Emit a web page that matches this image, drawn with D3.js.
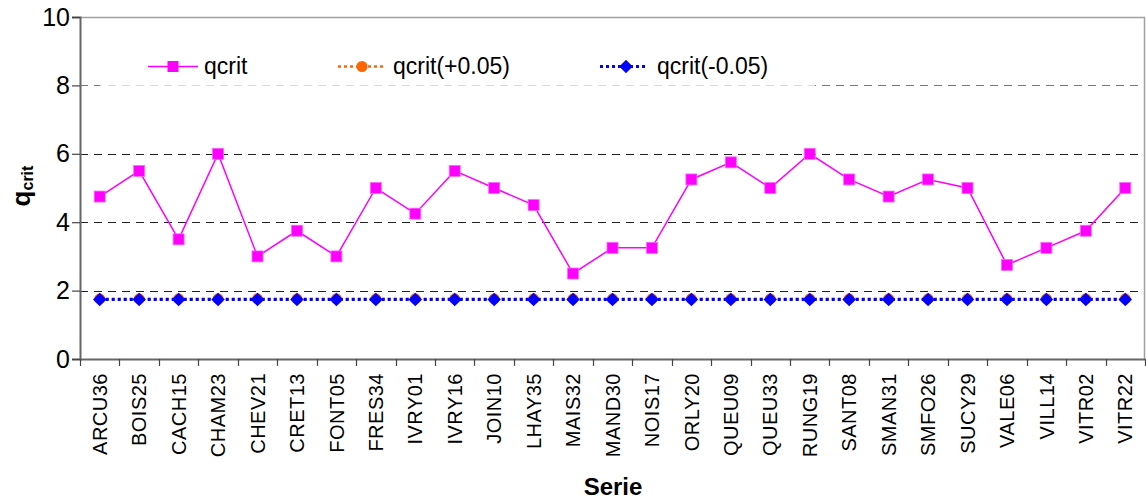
<!DOCTYPE html>
<html>
<head>
<meta charset="utf-8">
<script src="https://cdn.jsdelivr.net/npm/d3@7"></script>
<style>
  html, body { margin: 0; padding: 0; background: #fff; }
  svg { display: block; font-family: Arial, "Liberation Sans", sans-serif; }
</style>
</head>
<body>
<svg id="chart" width="1146" height="500"></svg>
<script>
const categories = ["ARCU36","BOIS25","CACH15","CHAM23","CHEV21","CRET13","FONT05","FRES34","IVRY01","IVRY16","JOIN10","LHAY35","MAIS32","MAND30","NOIS17","ORLY20","QUEU09","QUEU33","RUNG19","SANT08","SMAN31","SMFO26","SUCY29","VALE06","VILL14","VITR02","VITR22"];
const qcrit = [4.75,5.5,3.5,6.0,3.0,3.75,3.0,5.0,4.25,5.5,5.0,4.5,2.5,3.25,3.25,5.25,5.75,5.0,6.0,5.25,4.75,5.25,5.0,2.75,3.25,3.75,5.0];
const qcritPlus = [1.76,1.76,1.76,1.76,1.76,1.76,1.76,1.76,1.76,1.76,1.76,1.76,1.76,1.76,1.76,1.76,1.76,1.76,1.76,1.76,1.76,1.76,1.76,1.76,1.76,1.76,1.76];
const qcritMinus = [1.74,1.74,1.74,1.74,1.74,1.74,1.74,1.74,1.74,1.74,1.74,1.74,1.74,1.74,1.74,1.74,1.74,1.74,1.74,1.74,1.74,1.74,1.74,1.74,1.74,1.74,1.74];
const yTicks = [0,2,4,6,8,10];
const seriesNames = ["qcrit","qcrit(+0.05)","qcrit(-0.05)"];

const svg = d3.select("#chart");
const L = 80, R = 1145, T = 17, B = 359;

const x = d3.scaleBand().domain(categories).range([L, R]).padding(0);
const y = d3.scaleLinear().domain([0, 10]).range([B, T]);
const cx = c => x(c) + x.bandwidth() / 2;

// gridlines
const grid = svg.append("g");
grid.selectAll("line").data(yTicks.filter(t => t > 0 && t < 10)).join("line")
  .attr("x1", L).attr("x2", R)
  .attr("y1", d => Math.round(y(d)) + 0.5).attr("y2", d => Math.round(y(d)) + 0.5)
  .attr("stroke", d => d === 8 ? "#777" : "#222")
  .attr("stroke-width", 1.2)
  .attr("stroke-dasharray", "8,6");

// plot border top/right
svg.append("path")
  .attr("d", `M${L},${T + 0.5}H${R - 0.5}V${B}`)
  .attr("fill", "none").attr("stroke", "#a0a0a0").attr("stroke-width", 1.5);

// legend background (semi-transparent white)
svg.append("rect").attr("x", 100).attr("y", 40).attr("width", 715).attr("height", 56)
  .attr("fill", "#fff").attr("opacity", 0.72);

// Y axis
const yAxis = d3.axisLeft(y).tickValues(yTicks).tickSize(8).tickPadding(2).tickFormat(d3.format("d"));
const gy = svg.append("g").attr("transform", `translate(${L},0)`).call(yAxis);
gy.select(".domain").attr("stroke", "#666").attr("stroke-width", 2);
gy.selectAll(".tick line").attr("stroke", "#444").attr("stroke-width", 1.2);
gy.selectAll(".tick text").attr("font-size", 25).attr("fill", "#000").attr("font-family", "Arial, 'Liberation Sans', sans-serif");

// X axis
const xAxis = d3.axisBottom(x).tickSize(0).tickFormat(d => d);
const gx = svg.append("g").attr("transform", `translate(0,${B})`).call(xAxis);
gx.select(".domain").attr("stroke", "#666").attr("stroke-width", 2);
gx.selectAll(".tick text")
  .attr("font-size", 20).attr("fill", "#000").attr("font-family", "Arial, 'Liberation Sans', sans-serif")
  .attr("letter-spacing", 0.5)
  .attr("text-anchor", "end")
  .attr("transform", "rotate(-90)")
  .attr("x", -14).attr("y", 0).attr("dy", "0.36em");
// boundary ticks between categories
const bounds = categories.map(c => x(c)).concat([R]);
svg.append("g").selectAll("line").data(bounds).join("line")
  .attr("x1", d => Math.round(d) + 0.5).attr("x2", d => Math.round(d) + 0.5)
  .attr("y1", B).attr("y2", B + 7)
  .attr("stroke", "#444").attr("stroke-width", 1.2);

// Series lines
const line = (arr) => d3.line().x((d, i) => cx(categories[i])).y(d => y(d))(arr);

svg.append("path").attr("d", line(qcritPlus)).attr("fill", "none")
  .attr("stroke", "#FF6600").attr("stroke-width", 2.5).attr("stroke-dasharray", "3,3");
svg.append("g").selectAll("circle").data(qcritPlus).join("circle")
  .attr("cx", (d, i) => cx(categories[i])).attr("cy", d => y(d)).attr("r", 5.5)
  .attr("fill", "#FF6600");

svg.append("path").attr("d", line(qcritMinus)).attr("fill", "none")
  .attr("stroke", "#0000FF").attr("stroke-width", 3).attr("stroke-dasharray", "3,3");
const diamond = d3.symbol().type(d3.symbolDiamond2).size(115);
svg.append("g").selectAll("path").data(qcritMinus).join("path")
  .attr("d", diamond)
  .attr("transform", (d, i) => `translate(${cx(categories[i])},${y(d)})`)
  .attr("fill", "#0000FF");

svg.append("path").attr("d", line(qcrit)).attr("fill", "none")
  .attr("stroke", "#FF00FF").attr("stroke-width", 1.5);
svg.append("g").selectAll("rect").data(qcrit).join("rect")
  .attr("x", (d, i) => cx(categories[i]) - 5.5).attr("y", d => y(d) - 5.5)
  .attr("width", 11).attr("height", 11)
  .attr("fill", "#FF00FF").attr("stroke", "#FF66FF").attr("stroke-width", 0.8);

// Legend
const lg = svg.append("g");
const ly = 66.5;
lg.append("line").attr("x1", 148).attr("x2", 198).attr("y1", ly).attr("y2", ly)
  .attr("stroke", "#FF00FF").attr("stroke-width", 1.5);
lg.append("rect").attr("x", 167.5).attr("y", ly - 5.5).attr("width", 11).attr("height", 11).attr("fill", "#FF00FF");
lg.append("text").attr("x", 204).attr("y", 74).attr("font-size", 23).text(seriesNames[0]);
lg.append("line").attr("x1", 338).attr("x2", 386).attr("y1", ly).attr("y2", ly)
  .attr("stroke", "#FF6600").attr("stroke-width", 2.5).attr("stroke-dasharray", "3,3");
lg.append("circle").attr("cx", 362).attr("cy", ly).attr("r", 5.5).attr("fill", "#FF6600");
lg.append("text").attr("x", 393).attr("y", 74).attr("font-size", 23).text(seriesNames[1]);
lg.append("line").attr("x1", 600).attr("x2", 648).attr("y1", ly).attr("y2", ly)
  .attr("stroke", "#0000FF").attr("stroke-width", 3).attr("stroke-dasharray", "3,3");
lg.append("path").attr("d", diamond).attr("transform", `translate(626,${ly})`).attr("fill", "#0000FF");
lg.append("text").attr("x", 657).attr("y", 74).attr("font-size", 23).text(seriesNames[2]);

// Axis titles
svg.append("text").attr("x", 613).attr("y", 495).attr("text-anchor", "middle")
  .attr("font-size", 24).attr("font-weight", "bold").text("Serie");
const yt = svg.append("text").attr("transform", "translate(30,186) rotate(-90)")
  .attr("text-anchor", "middle").attr("font-weight", "bold");
yt.append("tspan").attr("font-size", 26).text("q");
yt.append("tspan").attr("font-size", 16).attr("dy", 3).text("crit");
</script>
</body>
</html>
